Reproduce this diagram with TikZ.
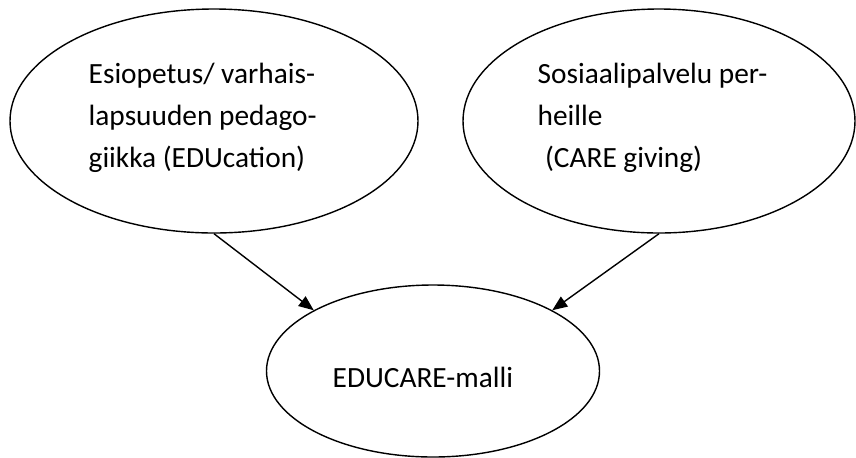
\documentclass[tikz,border=0pt]{standalone}
\usepackage{fontspec}
\setmainfont{Carlito}
\usetikzlibrary{shapes.geometric}
\usetikzlibrary{arrows.meta}
\tikzset{
every picture/.style={line width=0.8pt, >={Triangle[length=0.3cm,width=0.24cm]}},
%%%%%%%%%%  Node styles
bubble/.style={ellipse,draw,inner sep=0pt},
bubbletext/.style={align=left,inner sep=0pt,anchor=base west,
                   font=\fontsize{16.7pt}{23.9pt}\selectfont},
}

\begin{document}
\begin{tikzpicture}
\useasboundingbox (0,0) rectangle (17.12,-9.14);
\node[bubble,minimum width=8.16cm,minimum height=4.48cm] (edu) at (4.28,-2.42) {};
\node[bubble,minimum width=7.84cm,minimum height=4.48cm] (care) at (13.18,-2.42) {};
\node[bubble,minimum width=6.66cm,minimum height=3.44cm] (model) at (8.66,-7.42) {};
% base of the last line
\node[bubbletext] (edutext) at (1.76,-3.34) {Esiopetus/ varhais-\\lapsuuden pedago-\\giikka (EDUcation)};
\node[bubbletext] (caretext) at (10.74,-3.34) {Sosiaalipalvelu per-\\heille\\\hspace*{0.25em}(CARE giving)};
\node[bubbletext] (modeltext) at (6.64,-7.74) {EDUCARE-malli};
\draw[->] (edu.south) -- (model.153);
\draw[->] (care.south) -- (model.27);
\end{tikzpicture}
\end{document}
